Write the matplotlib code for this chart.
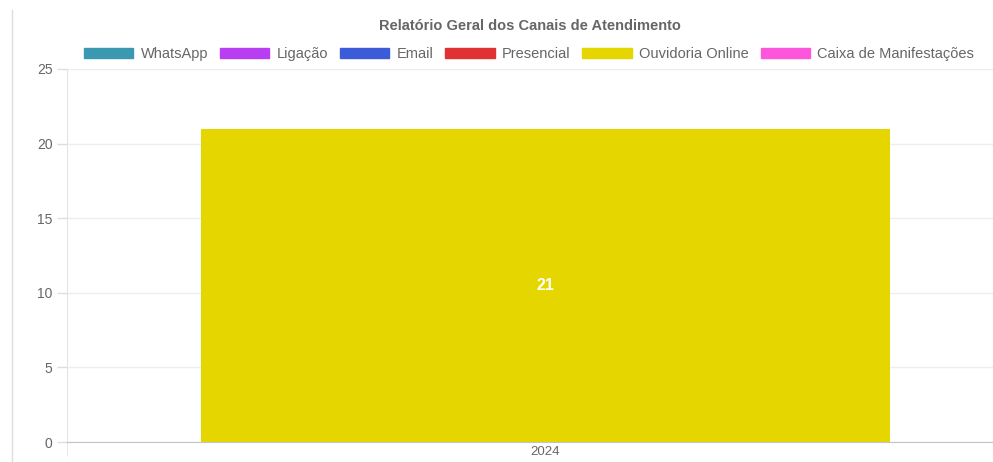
import matplotlib.pyplot as plt
from matplotlib.patches import Patch
from matplotlib.lines import Line2D

plt.rcParams['font.family'] = ['Liberation Sans', 'DejaVu Sans']

years = ['2024']
channels = ['WhatsApp', 'Ligação', 'Email', 'Presencial', 'Ouvidoria Online', 'Caixa de Manifestações']
values = [[0], [0], [0], [0], [21], [0]]
colors = ['#3a98b1', '#b83ef2', '#3b5bd9', '#e03232', '#e5d600', '#fd55dc']

fig = plt.figure(figsize=(9.93, 4.62), dpi=100)
ax = fig.add_axes([67 / 993, 20 / 462, 957 / 993, 373 / 462])

x = list(range(len(years)))
bottoms = [0] * len(years)
for name, vals, c in zip(channels, values, colors):
    ax.bar(x, vals, width=0.72, bottom=bottoms, color=c, label=name)
    for i, v in enumerate(vals):
        if v > 0:
            ax.text(x[i], bottoms[i] + v / 2, str(v), ha='center', va='center',
                    color='white', fontsize=11.5, fontweight='bold')
    bottoms = [b + v for b, v in zip(bottoms, vals)]

ax.set_xlim(-0.5, len(years) - 0.5)
ax.set_ylim(0, 25)
ax.set_yticks([0, 5, 10, 15, 20, 25])
ax.set_xticks(x)
ax.set_xticklabels(years)
ax.set_xticks([-0.5], minor=True)
ax.tick_params(axis='both', colors='#dddddd', labelcolor='#666666', labelsize=10, length=7, width=1)
ax.tick_params(axis='x', which='major', length=0, pad=3, labelsize=9.5)
ax.tick_params(axis='x', which='minor', length=10, color='#e3e3e3')
ax.grid(axis='y', color='#eeeeee', linewidth=1)
ax.set_axisbelow(True)
for s in ['top', 'right']:
    ax.spines[s].set_visible(False)
ax.spines['left'].set_color('#e3e3e3')
ax.spines['bottom'].set_color('#c4c4c4')

fig.text(530 / 993, 1 - 26 / 462, 'Relatório Geral dos Canais de Atendimento', ha='center', va='center',
         fontsize=10.5, fontweight='bold', color='#666666')

handles = [Patch(facecolor=c, edgecolor=c, label=n) for n, c in zip(channels, colors)]
fig.legend(handles=handles, loc='center', bbox_to_anchor=(529 / 993, 1 - 54 / 462), ncol=6,
           frameon=False, fontsize=10.5, labelcolor='#666666', handlelength=3.4, handleheight=0.75,
           handletextpad=0.5, columnspacing=0.8, borderaxespad=0)

fig.add_artist(Line2D([12 / 993, 12 / 993], [0, 1 - 10 / 462], transform=fig.transFigure,
                      color='#dddddd', linewidth=1))

plt.savefig('out.png', dpi=100)
